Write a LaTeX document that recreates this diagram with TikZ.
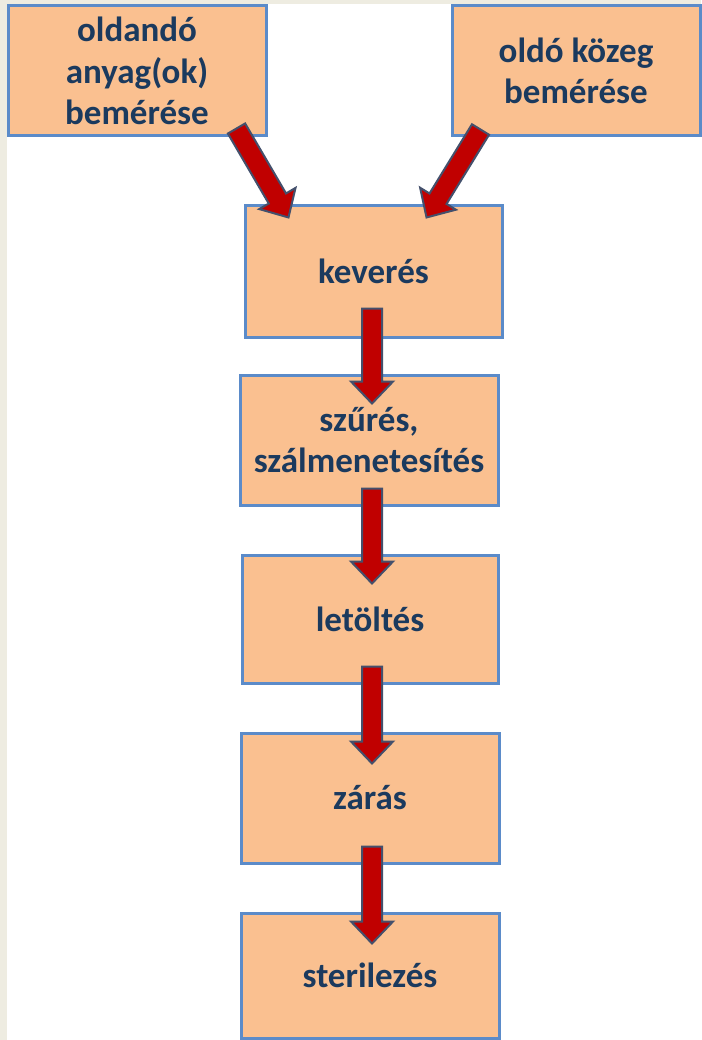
\documentclass[tikz,border=0pt]{standalone}
\usepackage{fontspec}
\setmainfont{Carlito}
\usetikzlibrary{calc}
\definecolor{boxfill}{HTML}{FAC090}
\definecolor{boxline}{HTML}{5B8BC9}
\definecolor{txt}{HTML}{1B3A5E}
\definecolor{arrred}{HTML}{C00000}
\definecolor{arrline}{HTML}{44506C}
\definecolor{bgbeige}{HTML}{EEECE1}
\newcommand\fatarrow[2]{%
  \path[draw=arrline,fill=arrred,line width=2pt,line join=miter]
    let \p1=#1, \p2=#2,
        \n1={atan2(\y2-\y1,\x2-\x1)},
        \n2={veclen(\x2-\x1,\y2-\y1)}
    in [shift={(\p1)},rotate=\n1]
    (0pt,-10pt) -- ({\n2-22pt},-10pt) -- ({\n2-22pt},-21pt) -- (\n2,0pt)
    -- ({\n2-22pt},21pt) -- ({\n2-22pt},10pt) -- (0pt,10pt) -- cycle;}
\tikzset{
  box/.style={draw=boxline, fill=boxfill, line width=3pt, inner sep=0pt,
    align=center, text=txt, font=\bfseries\fontsize{35}{41.5}\selectfont}
}
\begin{document}
\begin{tikzpicture}[x=1pt,y=-1pt]
\useasboundingbox (0,0) rectangle (701,1040);
\fill[white] (0,0) rectangle (701,1040);
\fill[bgbeige] (0,0) rectangle (701,4);
\fill[bgbeige] (0,0) rectangle (7,1040);

\node[box, minimum width=258pt, minimum height=130pt] (b1) at (137,71) {oldandó\\anyag(ok)\\bemérése};
\node[box, minimum width=248pt, minimum height=130pt] (b2) at (576,71) {oldó közeg\\bemérése};
\node[box, minimum width=257pt, minimum height=131pt] (kev) at (373.5,271.5) {keverés};
\node[box, minimum width=258pt, minimum height=130pt] (szu) at (369,440) {szűrés,\\szálmenetesítés};
\node[box, minimum width=256pt, minimum height=128pt] (let) at (370,619) {letöltés};
\node[box, minimum width=258pt, minimum height=130pt] (zar) at (370,798) {zárás};
\node[box, minimum width=258pt, minimum height=125pt] (ste) at (370,975.5) {sterilezés};

\coordinate (d1s) at ($(b1.south east)+(-31,-9)$);
\coordinate (d1e) at ($(kev.north west)+(45,13)$);
\coordinate (d2s) at ($(b2.south west)+(30,-8)$);
\coordinate (d2e) at ($(kev.north west)+(183,13)$);
\coordinate (a1s) at ($(kev.south)+(-1.5,-30)$);
\coordinate (a1e) at ($(szu.north)+(3,30)$);
\coordinate (a2s) at ($(szu.south)+(3,-18)$);
\coordinate (a2e) at ($(let.north)+(2,30)$);
\coordinate (a3s) at ($(let.south)+(2,-18)$);
\coordinate (a3e) at ($(zar.north)+(2,32)$);
\coordinate (a4s) at ($(zar.south)+(2,-18)$);
\coordinate (a4e) at ($(ste.north)+(2,32)$);

\fatarrow{(d1s)}{(d1e)}
\fatarrow{(d2s)}{(d2e)}
\fatarrow{(a1s)}{(a1e)}
\fatarrow{(a2s)}{(a2e)}
\fatarrow{(a3s)}{(a3e)}
\fatarrow{(a4s)}{(a4e)}
\end{tikzpicture}
\end{document}
